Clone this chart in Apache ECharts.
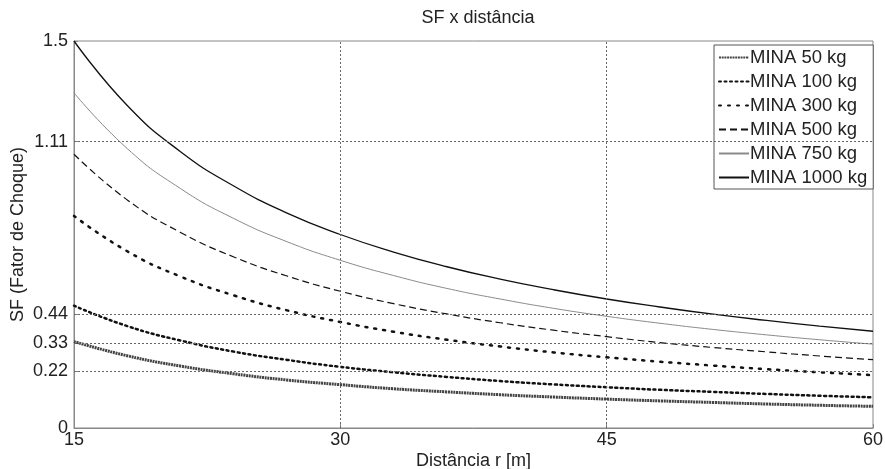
<!DOCTYPE html>
<html><head><meta charset="utf-8">
<script src="https://cdn.jsdelivr.net/npm/echarts@6/dist/echarts.min.js"></script>
<style>html,body{margin:0;padding:0;background:#fff}#c{width:885px;height:469px}</style>
</head><body><div id="c"></div>
<script>
const distances = [15,18,21,24,27,30,33,36,39,42,45,48,51,54,57,60];
const mina50   = [0.335,0.280,0.240,0.210,0.186,0.168,0.152,0.140,0.129,0.120,0.112,0.105,0.099,0.093,0.088,0.084];
const mina100  = [0.474,0.395,0.339,0.296,0.264,0.237,0.216,0.198,0.182,0.169,0.158,0.148,0.140,0.132,0.125,0.119];
const mina300  = [0.822,0.685,0.587,0.514,0.456,0.411,0.373,0.342,0.316,0.293,0.274,0.257,0.242,0.228,0.216,0.205];
const mina500  = [1.061,0.884,0.758,0.663,0.589,0.530,0.482,0.442,0.408,0.379,0.354,0.331,0.312,0.295,0.279,0.265];
const mina750  = [1.299,1.083,0.928,0.812,0.722,0.650,0.591,0.541,0.500,0.464,0.433,0.406,0.382,0.361,0.342,0.325];
const mina1000 = [1.500,1.250,1.071,0.938,0.833,0.750,0.682,0.625,0.577,0.536,0.500,0.469,0.441,0.417,0.395,0.375];
const seriesNames = ['MINA 50 kg','MINA 100 kg','MINA 300 kg','MINA 500 kg','MINA 750 kg','MINA 1000 kg'];
const yTicks = [0,0.22,0.33,0.44,1.11,1.5];
const yGrid = [0.22,0.33,0.44,1.11];
const xGrid = [30,45];

const styles = [
  {color:'#444', width:3, type:[2,0.7]},
  {color:'#111', width:2.5, type:[2,3.5], cap:'round'},
  {color:'#111', width:2.5, type:[2,7], cap:'round'},
  {color:'#111', width:1.2, type:[7,4]},
  {color:'#8a8a8a', width:1, type:'solid'},
  {color:'#111', width:1.3, type:'solid'}
];
const datasets = [mina50,mina100,mina300,mina500,mina750,mina1000];
const font = 'Liberation Sans, Arial, sans-serif';

const series = datasets.map((d,i)=>({
  name: seriesNames[i], type:'line', symbol:'none', showSymbol:false,
  smooth:true,
  data: distances.map((x,j)=>[x,d[j]]),
  lineStyle:{color:styles[i].color,width:styles[i].width,type:styles[i].type,cap:styles[i].cap||'butt'},
  itemStyle:{color:styles[i].color},
  z: 3, animation:false
}));
series.push({
  type:'line', data:[], silent:true, animation:false,
  markLine:{silent:true, symbol:'none', animation:false, label:{show:false},
    lineStyle:{color:'#666', type:[2,2], width:1},
    data: yGrid.map(v=>({yAxis:v})).concat(xGrid.map(v=>({xAxis:v})))}
});

const chart = echarts.init(document.getElementById('c'));
chart.setOption({
  animation:false,
  backgroundColor:'#fff',
  title:{text:'SF x distância', left:473, top:4, textAlign:'center',
    textStyle:{fontFamily:font, fontSize:18, fontWeight:'normal', color:'#222'}},
  grid:{left:74, right:12, top:41, bottom:41, show:true, borderColor:'#888', borderWidth:1,
    containLabel:false, outerBoundsMode:'none'},
  legend:{
    data:seriesNames, orient:'vertical', left:714, top:45,
    backgroundColor:'#fff', borderColor:'#555', borderWidth:1,
    padding:[3,6,2,4], itemGap:5, itemWidth:30, itemHeight:19,
    itemStyle:{opacity:0},
    textStyle:{fontFamily:font, fontSize:18.5, color:'#222', padding:[0,0,0,-4]}
  },
  xAxis:{type:'value', min:15, max:60, interval:15,
    name:'Distância r [m]', nameLocation:'middle', nameGap:24, nameMoveOverlap:false,
    nameTextStyle:{fontFamily:font, fontSize:18, color:'#222'},
    axisLine:{show:true, lineStyle:{color:'#888'}},
    axisTick:{show:true, inside:true, length:4, lineStyle:{color:'#888'}},
    axisLabel:{fontFamily:font, fontSize:18, color:'#222', margin:3},
    splitLine:{show:false}
  },
  yAxis:{type:'value', min:0, max:1.5,
    name:'SF (Fator de Choque)', nameLocation:'middle', nameGap:47, nameMoveOverlap:false,
    nameTextStyle:{fontFamily:font, fontSize:18, color:'#222'},
    axisLine:{show:true, lineStyle:{color:'#888'}},
    axisTick:{show:true, inside:true, length:4, customValues:yTicks, lineStyle:{color:'#888'}},
    axisLabel:{fontFamily:font, fontSize:18, color:'#222', margin:6, customValues:yTicks,
      formatter:v=>String(v)},
    splitLine:{show:false}
  },
  series: series
});
</script></body></html>
